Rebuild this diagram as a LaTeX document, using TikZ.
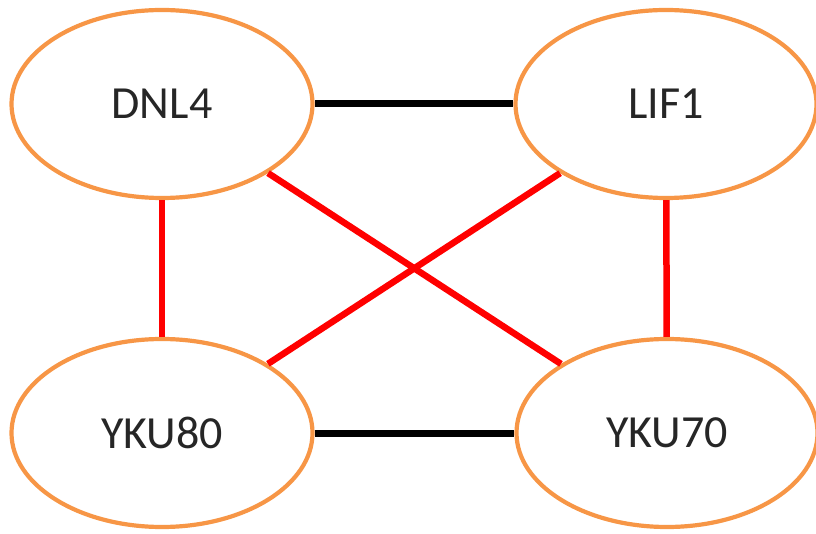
\documentclass[tikz,border=0pt]{standalone}
\usepackage{fontspec}
\setmainfont{Carlito}
\usetikzlibrary{shapes.geometric}
\definecolor{nodeorange}{HTML}{F79646}
\definecolor{edgered}{HTML}{FF0000}
\tikzset{
  protein/.style={ellipse, draw=nodeorange, line width=4.2pt, fill=white,
    minimum width=301pt, minimum height=188pt, inner sep=0pt,
    font=\fontsize{46}{50}\selectfont, text=black!85},
  blackedge/.style={draw=black, line width=7pt},
  rededge/.style={draw=edgered, line width=6.5pt}
}
\begin{document}
\begin{tikzpicture}[x=1pt,y=-1pt]
\useasboundingbox (0,0) rectangle (816,534);
\node[protein] (dnl4) at (162,104) {DNL4};
\node[protein] (lif1) at (666,104) {LIF1};
\node[protein] (yku80) at (162,433) {YKU80};
\node[protein] (yku70) at (667,433) {YKU70};
\draw[blackedge] (dnl4) -- (lif1);
\draw[blackedge] (yku80) -- (yku70);
\draw[rededge] (dnl4) -- (yku80);
\draw[rededge] (lif1) -- (yku70);
\draw[rededge] (dnl4) -- (yku70);
\draw[rededge] (lif1) -- (yku80);
\end{tikzpicture}
\end{document}
